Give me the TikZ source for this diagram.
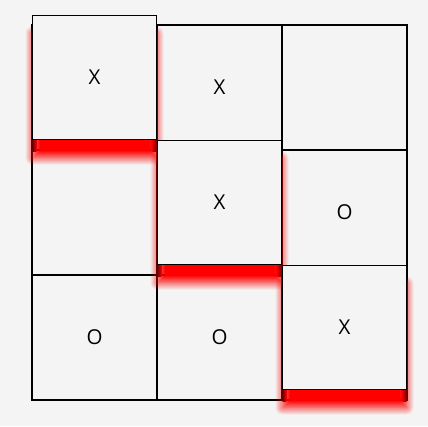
\documentclass[tikz,border=0pt]{standalone}
\usepackage{fontspec}
\setmainfont{Open Sans}
\definecolor{pagebg}{HTML}{F4F4F4}
\definecolor{glow}{HTML}{FF0000}
\begin{document}
\begin{tikzpicture}[x=1pt,y=-1pt,font=\fontsize{20.5}{24}\selectfont,
 cell/.style={draw=black,line width=1.6pt,fill=pagebg,minimum size=125pt,inner sep=0pt},
 litcell/.style={draw=black,line width=1pt,fill=pagebg,minimum size=124pt,inner sep=0pt}]
\fill[pagebg] (0,0) rectangle (428,426);
\useasboundingbox (0,0) rectangle (428,426);
\foreach \r/\c/\txt in {0/0/{},0/1/X,0/2/{},1/0/{},1/1/{},1/2/O,2/0/O,2/1/O,2/2/{}}
  \node[cell] (g\r\c) at (94.5+125*\c,87.5+125*\r) {\txt};
\foreach \r/\c in {0/0,1/1,2/2}{
  \pgfmathsetmacro\cx{94.5+125*\c}
  \pgfmathsetmacro\cy{87.5+125*\r}
  \foreach \k in {7,6,...,-7}{
    \pgfmathsetmacro\op{1/(\k+8)}
    \pgfmathsetmacro\rc{max(\k,0)}
    \fill[glow,opacity=\op,rounded corners=\rc pt] (\cx-62-\k,\cy-54-\k) rectangle (\cx+62+\k,\cy+70+\k);
  }
  \shade[left color=glow!45!black,right color=glow] (\cx-62,\cy+52) rectangle (\cx-58,\cy+64);
  \shade[left color=glow,right color=glow!45!black] (\cx+57,\cy+52) rectangle (\cx+62,\cy+64);
  \node[litcell] (hit\r) at (\cx,\cy-10) {X};
}
\end{tikzpicture}
\end{document}
